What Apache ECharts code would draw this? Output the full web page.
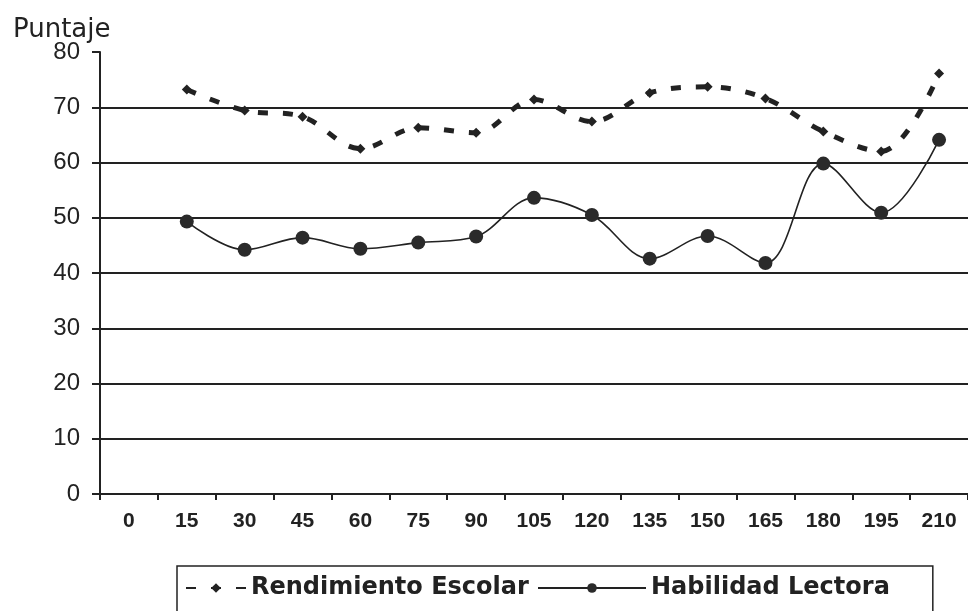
<!DOCTYPE html>
<html>
<head>
<meta charset="utf-8">
<script src="https://cdn.jsdelivr.net/npm/echarts@6/dist/echarts.min.js"></script>
<style>html,body{margin:0;padding:0;background:#fff;}#c{width:968px;height:611px;}</style>
</head>
<body>
<div id="c"></div>
<script>
const categories = ['0','15','30','45','60','75','90','105','120','135','150','165','180','195','210'];
const rendimientoEscolar = [null, 73.2, 69.4, 68.3, 62.5, 66.3, 65.4, 71.4, 67.4, 72.6, 73.7, 71.6, 65.6, 62.0, 76.1];
const habilidadLectora = [null, 49.3, 44.2, 46.4, 44.4, 45.5, 46.6, 53.6, 50.5, 42.6, 46.7, 41.8, 59.8, 50.9, 64.1];
const yTicks = { min: 0, max: 80, interval: 10 };

const chart = echarts.init(document.getElementById('c'), null, { renderer: 'canvas' });
chart.setOption({
  backgroundColor: '#fff',
  animation: false,
  textStyle: { fontFamily: 'Liberation Sans, Arial, sans-serif', color: '#222' },
  title: {
    text: 'Puntaje', left: 8, top: 12,
    textStyle: { fontSize: 26, fontWeight: 'normal', color: '#222', fontFamily: 'DejaVu Sans, sans-serif' }
  },
  grid: { left: 100, top: 52, right: 0, bottom: 117, containLabel: false },
  xAxis: {
    type: 'category', data: categories, boundaryGap: true,
    axisLine: { lineStyle: { color: '#222', width: 2 } },
    axisTick: { show: true, length: 6, lineStyle: { color: '#222', width: 2 } },
    axisLabel: { fontSize: 21, fontWeight: 'bold', color: '#222', margin: 17 }
  },
  yAxis: {
    type: 'value', min: yTicks.min, max: yTicks.max, interval: yTicks.interval,
    axisLine: { show: true, lineStyle: { color: '#222', width: 2 } },
    axisTick: { show: true, length: 8, lineStyle: { color: '#222', width: 2 } },
    axisLabel: { fontSize: 24, color: '#222', margin: 20 },
    splitLine: { show: true, showMaxLine: false, lineStyle: { color: '#222', width: 2 } }
  },
  legend: [
    {
      left: 177, top: 566,
      backgroundColor: '#fff',
      borderColor: '#222', borderWidth: 1.5, borderRadius: 0,
      padding: [10, 404, 20, 8],
      itemWidth: 60, itemHeight: 12, itemGap: 6,
      textStyle: { fontSize: 24, fontWeight: 'bold', color: '#222', fontFamily: 'DejaVu Sans, sans-serif' },
      data: ['Rendimiento Escolar']
    },
    {
      left: 537, top: 566,
      padding: [10, 0, 20, 0],
      itemWidth: 108, itemHeight: 12,
      textStyle: { fontSize: 24, fontWeight: 'bold', color: '#222', fontFamily: 'DejaVu Sans, sans-serif' },
      data: ['Habilidad Lectora']
    }
  ],
  series: [
    {
      name: 'Rendimiento Escolar', type: 'line', data: rendimientoEscolar,
      smooth: 0.35, connectNulls: false,
      symbol: 'diamond', symbolSize: 10,
      itemStyle: { color: '#222' },
      lineStyle: { color: '#222', width: 5, type: [10, 15] }
    },
    {
      name: 'Habilidad Lectora', type: 'line', data: habilidadLectora,
      smooth: 0.35,
      symbol: 'circle', symbolSize: 14,
      itemStyle: { color: '#2a2a2a' },
      lineStyle: { color: '#222', width: 1.6 }
    }
  ]
});
</script>
</body>
</html>
